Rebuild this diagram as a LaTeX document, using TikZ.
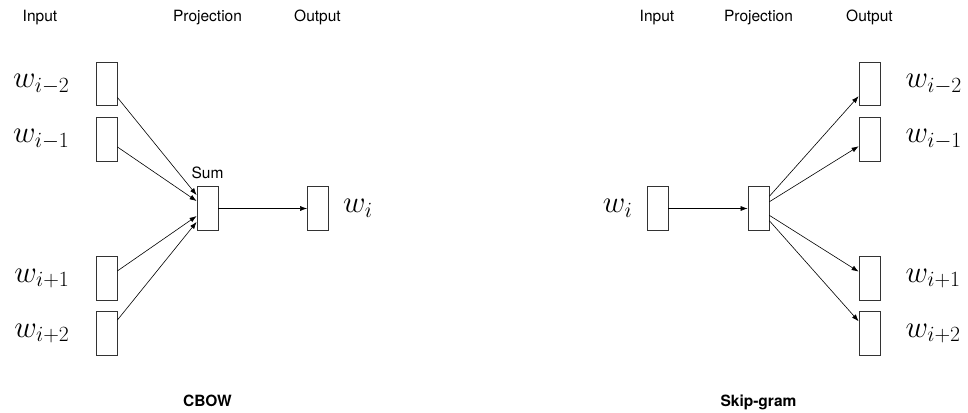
\RequirePackage{fix-cm}
\documentclass[tikz,border=0pt]{standalone}
\usepackage[no-math]{fontspec}
\setmainfont{TeX Gyre Heros}
\usetikzlibrary{arrows.meta}

\tikzset{
  vec/.style={draw=black!80, line width=0.8pt, minimum width=21pt,
              minimum height=43.5pt, inner sep=0pt},
  arr/.style={-{Latex[length=7pt,width=5pt]}, line width=0.6pt},
  lbl/.style={font=\fontsize{15.5}{18}\selectfont, inner sep=0pt, anchor=base},
  capt/.style={font=\fontsize{15.5}{18}\selectfont\bfseries, inner sep=0pt, anchor=base},
  wlab/.style={inner sep=0pt, font=\fontsize{31}{36}\selectfont},
}

\begin{document}
\begin{tikzpicture}[x=1pt, y=-1pt]
  \fill[white] (0,0) rectangle (968,412);
  \useasboundingbox (0,0) rectangle (968,412);

  % ---------- CBOW ----------
  \node[lbl] (hin1)   at (40,22)    {Input};
  \node[lbl] (hproj1) at (207.5,22) {Projection};
  \node[lbl] (hout1)  at (317.5,22) {Output};

  \node[vec] (cm2) at (106.5,84)    {};
  \node[vec] (cm1) at (106.5,139.5) {};
  \node[vec] (cp1) at (106.5,278.5) {};
  \node[vec] (cp2) at (106.5,333.5) {};
  \node[vec] (sum) at (207.5,208.5) {};
  \node[vec] (cout) at (318,208.5)  {};

  \node[lbl] (sumlbl) at (207.5,178) {Sum};

  \node[wlab, anchor=east] (lcm2) at ([xshift=-26pt]cm2.west) {$w_{i-2}$};
  \node[wlab, anchor=east] (lcm1) at ([xshift=-26pt]cm1.west) {$w_{i-1}$};
  \node[wlab, anchor=east] (lcp1) at ([xshift=-26pt]cp1.west) {$w_{i+1}$};
  \node[wlab, anchor=east] (lcp2) at ([xshift=-26pt]cp2.west) {$w_{i+2}$};
  \node[wlab, anchor=west] (lcout) at ([xshift=14pt]cout.east) {$w_{i}$};

  \draw[arr] (cm2) -- (sum);
  \draw[arr] (cm1) -- (sum);
  \draw[arr] (cp1) -- (sum);
  \draw[arr] (cp2) -- (sum);
  \draw[arr] (sum) -- (cout);

  \node[capt] (cbow) at (207.5,406) {CBOW};

  % ---------- Skip-gram ----------
  \node[lbl] (hin2)   at (657,22)   {Input};
  \node[lbl] (hproj2) at (758.5,22) {Projection};
  \node[lbl] (hout2)  at (869.5,22) {Output};

  \node[vec] (sin)  at (657.5,208.5) {};
  \node[vec] (proj) at (758.5,208.5) {};
  \node[vec] (sm2) at (869.5,84)    {};
  \node[vec] (sm1) at (869.5,139.5) {};
  \node[vec] (sp1) at (869.5,278.5) {};
  \node[vec] (sp2) at (869.5,333.5) {};

  \node[wlab, anchor=east] (lsin) at ([xshift=-14pt]sin.west) {$w_{i}$};
  \node[wlab, anchor=west] (lsm2) at ([xshift=25pt]sm2.east) {$w_{i-2}$};
  \node[wlab, anchor=west] (lsm1) at ([xshift=25pt]sm1.east) {$w_{i-1}$};
  \node[wlab, anchor=west] (lsp1) at ([xshift=25pt]sp1.east) {$w_{i+1}$};
  \node[wlab, anchor=west] (lsp2) at ([xshift=25pt]sp2.east) {$w_{i+2}$};

  \draw[arr] (sin) -- (proj);
  \draw[arr] (proj) -- (sm2);
  \draw[arr] (proj) -- (sm1);
  \draw[arr] (proj) -- (sp1);
  \draw[arr] (proj) -- (sp2);

  \node[capt] (skip) at (758.5,406) {Skip-gram};
\end{tikzpicture}
\end{document}
